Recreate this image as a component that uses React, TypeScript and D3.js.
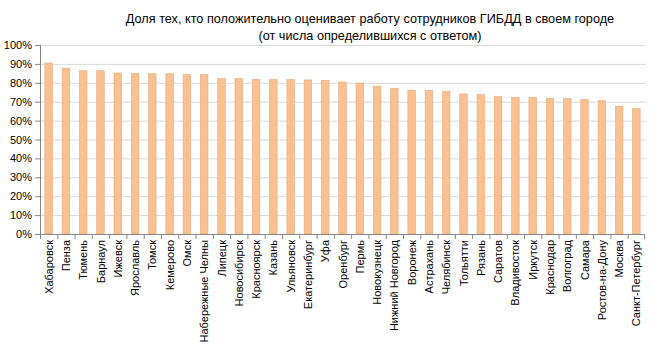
import React from "react";
import * as d3 from "d3";

const cities = [
  "Хабаровск", "Пенза", "Тюмень", "Барнаул", "Ижевск", "Ярославль", "Томск", "Кемерово", "Омск",
  "Набережные Челны", "Липецк", "Новосибирск", "Красноярск", "Казань", "Ульяновск", "Екатеринбург",
  "Уфа", "Оренбург", "Пермь", "Новокузнецк", "Нижний Новгород", "Воронеж", "Астрахань", "Челябинск",
  "Тольятти", "Рязань", "Саратов", "Владивосток", "Иркутск", "Краснодар", "Волгоград", "Самара",
  "Ростов-на-Дону", "Москва", "Санкт-Петербург",
];

const shares = [
  90.5, 87.7, 86.4, 86.4, 85.2, 85.0, 84.8, 84.8, 84.3, 84.3, 82.2, 82.2, 81.8, 81.7, 81.7, 81.5,
  81.2, 80.4, 79.8, 78.2, 77.0, 76.1, 75.9, 75.4, 74.1, 73.8, 72.7, 72.2, 72.2, 71.8, 71.6, 71.1,
  70.5, 67.5, 66.3,
];

const yTicks = [0, 10, 20, 30, 40, 50, 60, 70, 80, 90, 100];

const titleLines = [
  "Доля тех, кто положительно оценивает работу сотрудников ГИБДД в своем городе",
  "(от числа определившихся с ответом)",
];

export default function App() {
  const W = 651, H = 356;
  const left = 40, right = 645, top = 45, bottom = 234;
  const x = d3.scaleBand<string>().domain(cities).range([left, right]).paddingInner(0.565).paddingOuter(0.28);
  const band = d3.scaleBand<string>().domain(cities).range([left, right]);
  const y = d3.scaleLinear().domain([0, 100]).range([bottom, top]);
  const font = "Arial, 'Liberation Sans', sans-serif";

  return (
    <svg width={W} height={H} style={{ position: "absolute", left: 0, top: 0, background: "#fff" }} fontFamily={font}>
      {titleLines.map((t, i) => (
        <text key={i} x={370} y={23 + i * 16.5} textAnchor="middle" fontSize={12.7} fill="#000">{t}</text>
      ))}
      {yTicks.map((t) => (
        <g key={t}>
          {t > 0 && <line x1={left} x2={right + 1} y1={y(t) + 0.5} y2={y(t) + 0.5} stroke="#d9d9d9" strokeWidth={1} />}
          <line x1={left - 5} x2={left} y1={y(t) + 0.5} y2={y(t) + 0.5} stroke="#868686" />
          <text x={left - 8} y={y(t) + 4} textAnchor="end" fontSize={11} fill="#000">{t}%</text>
        </g>
      ))}
      {cities.map((c, i) => (
        <rect key={c} x={x(c)!} y={y(shares[i])} width={x.bandwidth()} height={bottom - y(shares[i])}
          fill="#FAC090" stroke="#e3a87a" strokeWidth={0.6} />
      ))}
      <line x1={left + 0.5} x2={left + 0.5} y1={top} y2={bottom} stroke="#868686" />
      <line x1={left} x2={right} y1={bottom + 0.5} y2={bottom + 0.5} stroke="#868686" />
      {cities.map((c) => (
        <line key={"t" + c} x1={band(c)! + 0.5} x2={band(c)! + 0.5} y1={bottom} y2={bottom + 5} stroke="#868686" />
      ))}
      <line x1={right - 0.5} x2={right - 0.5} y1={bottom} y2={bottom + 5} stroke="#868686" />
      {cities.map((c) => {
        const cx = band(c)! + band.bandwidth() / 2 + 4;
        return (
          <text key={"l" + c} transform={`translate(${cx},${240}) rotate(-90)`} textAnchor="end" fontSize={11} fill="#000">{c}</text>
        );
      })}
    </svg>
  );
}
